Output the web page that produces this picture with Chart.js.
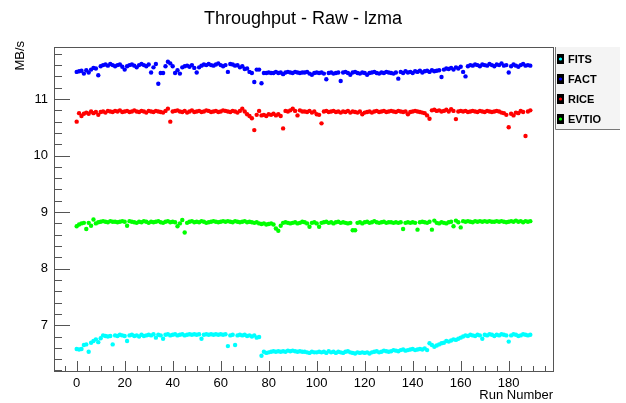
<!DOCTYPE html>
<html>
<head>
<meta charset="utf-8">
<script src="https://cdn.jsdelivr.net/npm/chart.js@4.4.0/dist/chart.umd.min.js"></script>
<style>
  body { margin: 0; background: #fff; }
  canvas { display: block; }
</style>
</head>
<body>
<canvas id="graph" width="626" height="403"></canvas>
<script>
// Valores (MB/s por número de run)
const seriesNames = ['FITS', 'FACT', 'RICE', 'EVTIO'];
const seriesColors = ['#00ffff', '#0000ff', '#ff0000', '#00ff00'];

const fits = [
  6.58, 6.57, 6.58, 6.65, 6.66, 6.53, 6.69, 6.72, 6.75, 6.70,
  6.77, 6.82, 6.81, 6.80, 6.81, 6.66, 6.82, 6.81, 6.83, 6.82,
  6.81, 6.72, 6.82, 6.83, 6.81, 6.82, 6.80, 6.83, 6.81, 6.82,
  6.83, 6.82, 6.84, 6.78, 6.83, 6.82, 6.76, 6.83, 6.84, 6.82,
  6.83, 6.84, 6.82, 6.83, 6.84, 6.82, 6.83, 6.84, 6.83, 6.84,
  6.83, 6.84, 6.76, 6.83, 6.84, 6.83, 6.84, 6.83, 6.84, 6.83,
  6.84, 6.83, 6.84, 6.63, 6.82, 6.83, 6.65, 6.82, 6.83, 6.82,
  6.83, 6.81, 6.82, 6.80, 6.82, 6.78, 6.79, 6.46, 6.53, 6.51,
  6.52, 6.53, 6.54, 6.53, 6.54, 6.53, 6.54, 6.53, 6.55, 6.54,
  6.55, 6.54, 6.53, 6.54, 6.53, 6.53, 6.52, 6.51, 6.53, 6.52, 6.52,
  6.53, 6.52, 6.53, 6.51, 6.54, 6.52, 6.53, 6.51, 6.53, 6.52,
  6.51, 6.53, 6.54, 6.52, 6.51, 6.50, 6.52, 6.51, 6.52, 6.51,
  6.52, 6.50, 6.52, 6.53, 6.54, 6.52, 6.53, 6.55, 6.54, 6.53,
  6.54, 6.56, 6.55, 6.54, 6.56, 6.57, 6.55, 6.56, 6.57, 6.58,
  6.56, 6.57, 6.58, 6.57, 6.59, 6.56, 6.68, 6.65, 6.62, 6.64,
  6.66, 6.68, 6.69, 6.72, 6.71, 6.73, 6.75, 6.74, 6.76, 6.78,
  6.80, 6.82, 6.81, 6.83, 6.82, 6.81, 6.83, 6.82, 6.76, 6.83,
  6.82, 6.84, 6.83, 6.81, 6.83, 6.82, 6.84, 6.83, 6.82, 6.71,
  6.82, 6.84, 6.83, 6.81, 6.82, 6.84, 6.83, 6.82, 6.83
];

const fact = [
  11.48, 11.49, 11.50, 11.45, 11.51, 11.47, 11.52, 11.55, 11.54, 11.42,
  11.58, 11.60, 11.61, 11.59, 11.62, 11.60, 11.58, 11.60, 11.61, 11.57,
  11.52, 11.58, 11.60, 11.61, 11.59, 11.56, 11.60, 11.62, 11.60, 11.58,
  11.61, 11.47, 11.56, 11.62, 11.27, 11.46, 11.46, 11.58, 11.66, 11.63,
  11.58, 11.46, 11.51, 11.45, 11.56, 11.58, 11.59, 11.57, 11.60, 11.55,
  11.47, 11.56, 11.59, 11.61, 11.60, 11.62, 11.60, 11.59, 11.61, 11.63,
  11.60, 11.58, 11.60, 11.48, 11.62, 11.61, 11.59, 11.60, 11.56, 11.58,
  11.53, 11.54, 11.48, 11.46, 11.30, 11.52, 11.52, 11.28, 11.46, 11.46,
  11.47, 11.46, 11.46, 11.48, 11.46, 11.47, 11.44, 11.47, 11.48, 11.47,
  11.46, 11.48, 11.47, 11.46, 11.47, 11.47, 11.48, 11.45, 11.43, 11.46, 11.47,
  11.46, 11.47, 11.45, 11.35, 11.46, 11.47, 11.45, 11.46, 11.47, 11.32,
  11.47, 11.48, 11.46, 11.43, 11.47, 11.48, 11.46, 11.45, 11.47, 11.46,
  11.43, 11.46, 11.47, 11.48, 11.46, 11.45, 11.47, 11.46, 11.48, 11.47,
  11.46, 11.45, 11.47, 11.36, 11.48, 11.46, 11.49, 11.47, 11.48, 11.46,
  11.49, 11.48, 11.50, 11.47, 11.49, 11.50, 11.48, 11.51, 11.49, 11.50,
  11.51, 11.39, 11.52, 11.54, 11.53, 11.55, 11.52, 11.56, 11.54, 11.57,
  11.48, 11.40, 11.58, 11.60, 11.59, 11.61, 11.60, 11.58, 11.61, 11.60,
  11.59, 11.62, 11.60, 11.58, 11.61, 11.60, 11.63, 11.59, 11.60, 11.47,
  11.58, 11.61, 11.59, 11.57, 11.60, 11.62, 11.59, 11.60, 11.59
];

const rice = [
  10.60, 10.75, 10.70, 10.74, 10.76, 10.74, 10.78, 10.75, 10.77, 10.72,
  10.77, 10.78, 10.76, 10.79, 10.78, 10.77, 10.79, 10.78, 10.80, 10.77,
  10.78, 10.79, 10.77, 10.78, 10.80, 10.78, 10.77, 10.79, 10.78, 10.76,
  10.79, 10.78, 10.77, 10.79, 10.78, 10.77, 10.76, 10.79, 10.83, 10.60,
  10.78, 10.79, 10.80, 10.78, 10.77, 10.79, 10.76, 10.78, 10.80, 10.77,
  10.78, 10.79, 10.77, 10.78, 10.80, 10.79, 10.77, 10.78, 10.79, 10.77,
  10.78, 10.80, 10.79, 10.78, 10.77, 10.79, 10.78, 10.76, 10.79, 10.83,
  10.78, 10.73, 10.70, 10.66, 10.45, 10.72, 10.79, 10.71, 10.72, 10.70,
  10.73, 10.72, 10.74, 10.71, 10.73, 10.70, 10.48, 10.79, 10.78, 10.80,
  10.83, 10.79, 10.71, 10.80, 10.78, 10.78, 10.77, 10.79, 10.76, 10.78, 10.73,
  10.72, 10.57, 10.78, 10.79, 10.77, 10.78, 10.79, 10.77, 10.78, 10.76,
  10.78, 10.77, 10.79, 10.76, 10.78, 10.77, 10.76, 10.78, 10.73, 10.76,
  10.77, 10.78, 10.76, 10.78, 10.79, 10.77, 10.78, 10.79, 10.77, 10.78,
  10.79, 10.78, 10.77, 10.79, 10.78, 10.77, 10.78, 10.73, 10.77, 10.78,
  10.79, 10.78, 10.77, 10.76, 10.75, 10.71, 10.65, 10.80, 10.81, 10.79,
  10.80, 10.78, 10.79, 10.81, 10.78, 10.82, 10.79, 10.645, 10.78, 10.79,
  10.78, 10.79, 10.77, 10.78, 10.79, 10.78, 10.77, 10.79, 10.78, 10.77,
  10.79, 10.78, 10.77, 10.78, 10.79, 10.78, 10.76, 10.75, 10.72, 10.50,
  10.74, 10.71, 10.76, 10.75, 10.79, 10.77, 10.345, 10.78, 10.80
];

const evtio = [
  8.75, 8.78, 8.80, 8.81, 8.70, 8.81, 8.76, 8.87, 8.80, 8.82,
  8.83, 8.84, 8.83, 8.82, 8.84, 8.83, 8.83, 8.82, 8.83, 8.84,
  8.83, 8.76, 8.84, 8.83, 8.82, 8.81, 8.83, 8.82, 8.84, 8.83,
  8.81, 8.83, 8.82, 8.83, 8.84, 8.82, 8.81, 8.83, 8.84, 8.82,
  8.83, 8.82, 8.75, 8.80, 8.86, 8.64, 8.81, 8.83, 8.84, 8.82,
  8.83, 8.82, 8.84, 8.83, 8.81, 8.82, 8.83, 8.84, 8.83, 8.82,
  8.83, 8.84, 8.83, 8.84, 8.83, 8.82, 8.84, 8.83, 8.82, 8.83,
  8.84, 8.82, 8.83, 8.82, 8.81, 8.82, 8.80, 8.79, 8.80, 8.78,
  8.79, 8.80, 8.78, 8.71, 8.67, 8.76, 8.81, 8.82, 8.81, 8.80,
  8.81, 8.82, 8.80, 8.81, 8.83, 8.82, 8.80, 8.74, 8.81, 8.82, 8.80,
  8.74, 8.81, 8.82, 8.83, 8.81, 8.82, 8.80, 8.82, 8.83, 8.81,
  8.82, 8.81, 8.80, 8.81, 8.68, 8.68, 8.81, 8.82, 8.80, 8.82,
  8.83, 8.81, 8.82, 8.84, 8.82, 8.81, 8.82, 8.83, 8.81, 8.82,
  8.82, 8.81, 8.82, 8.81, 8.82, 8.70, 8.81, 8.82, 8.81, 8.82,
  8.81, 8.69, 8.82, 8.83, 8.82, 8.81, 8.83, 8.69, 8.85, 8.81,
  8.80, 8.82, 8.81, 8.80, 8.82, 8.83, 8.75, 8.85, 8.82, 8.73,
  8.84, 8.83, 8.84, 8.83, 8.82, 8.84, 8.83, 8.84, 8.83, 8.84,
  8.83, 8.84, 8.83, 8.83, 8.84, 8.83, 8.84, 8.83, 8.82, 8.83,
  8.84, 8.83, 8.85, 8.83, 8.84, 8.82, 8.84, 8.83, 8.84
];

const seriesValues = [fits, fact, rice, evtio];

const FONT = '"Liberation Sans", Arial, Helvetica, sans-serif';

// cada valor va en su número de run (posición en la lista)
function toPoints(values) {
  return values.map((v, i) => ({ x: i, y: v }));
}

// marco, marcas de los ejes, títulos y leyenda al estilo ROOT
const rootStyle = {
  id: 'rootStyle',
  afterDraw(chart) {
    const ctx = chart.ctx;
    const area = chart.chartArea;
    const xs = chart.scales.x;
    const ys = chart.scales.y;
    ctx.save();

    // marco
    ctx.strokeStyle = '#555';
    ctx.lineWidth = 1;
    ctx.strokeRect(Math.round(area.left) + 0.5, Math.round(area.top) + 0.5,
      Math.round(area.right - area.left), Math.round(area.bottom - area.top));

    // marcas del eje Y (hacia dentro)
    ctx.beginPath();
    const y0 = Math.ceil(ys.min * 5);
    const y1 = Math.floor(ys.max * 5);
    for (let k = y0; k <= y1; k++) {
      const py = Math.round(ys.getPixelForValue(k / 5)) + 0.5;
      const len = (k % 5 === 0) ? 16 : 8;
      ctx.moveTo(area.left, py);
      ctx.lineTo(area.left + len, py);
    }
    // marcas del eje X (hacia arriba)
    const x0 = Math.ceil(xs.min / 5);
    const x1 = Math.floor(xs.max / 5);
    for (let k = x0; k <= x1; k++) {
      const px = Math.round(xs.getPixelForValue(k * 5)) + 0.5;
      const len = (k % 4 === 0) ? 10 : 5;
      ctx.moveTo(px, area.bottom);
      ctx.lineTo(px, area.bottom - len);
    }
    ctx.stroke();

    // título
    ctx.fillStyle = '#000';
    ctx.font = '18px ' + FONT;
    ctx.textAlign = 'center';
    ctx.textBaseline = 'middle';
    ctx.fillText('Throughput - Raw - lzma', 303, 19);

    // títulos de los ejes
    ctx.font = '13px ' + FONT;
    ctx.textAlign = 'right';
    ctx.textBaseline = 'alphabetic';
    ctx.fillText('Run Number', area.right, 399);
    ctx.save();
    ctx.translate(24, area.top - 6);
    ctx.rotate(-Math.PI / 2);
    ctx.textAlign = 'right';
    ctx.fillText('MB/s', 0, 0);
    ctx.restore();

    // leyenda
    const lx = 555, ly = area.top, lw = 65, lh = 82;
    ctx.fillStyle = '#f4f4f4';
    ctx.fillRect(lx, ly, lw, lh);
    ctx.strokeStyle = '#777';
    ctx.beginPath();
    ctx.moveTo(lx + 0.5, ly);
    ctx.lineTo(lx + 0.5, ly + lh + 0.5);
    ctx.lineTo(lx + lw, ly + lh + 0.5);
    ctx.stroke();
    ctx.font = 'bold 11px ' + FONT;
    ctx.textAlign = 'left';
    ctx.textBaseline = 'middle';
    seriesNames.forEach((name, i) => {
      const cy = ly + 12 + i * 20;
      ctx.fillStyle = '#000';
      ctx.fillRect(lx + 2, cy - 5, 7, 10);
      ctx.fillStyle = seriesColors[i];
      ctx.beginPath();
      ctx.arc(lx + 5.5, cy, 1.6, 0, Math.PI * 2);
      ctx.fill();
      ctx.fillStyle = '#000';
      ctx.fillText(name, lx + 13, cy + 1);
    });
    ctx.restore();
  }
};

function createChart() {
  const ctx = document.getElementById('graph').getContext('2d');
  const datasets = seriesNames.map((name, i) => ({
    label: name,
    data: toPoints(seriesValues[i]),
    backgroundColor: seriesColors[i],
    borderColor: seriesColors[i],
    borderWidth: 0,
    pointRadius: 2.2,
    showLine: false
  }));

  new Chart(ctx, {
    type: 'scatter',
    data: { datasets: datasets },
    options: {
      responsive: false,
      animation: false,
      layout: { padding: { top: 47, right: 73, left: 0, bottom: 0 } },
      plugins: {
        legend: { display: false },
        tooltip: { enabled: false },
        title: { display: false }
      },
      scales: {
        x: {
          type: 'linear',
          min: -9.45,
          max: 198.45,
          grid: { display: false, drawTicks: false },
          border: { display: false },
          ticks: {
            stepSize: 20,
            includeBounds: false,
            autoSkip: false,
            maxRotation: 0,
            padding: 5,
            color: '#000',
            font: { family: FONT, size: 13 }
          },
          afterFit(scale) { scale.height = 32; }
        },
        y: {
          type: 'linear',
          min: 6.19,
          max: 11.92,
          grid: { display: false, drawTicks: false },
          border: { display: false },
          ticks: {
            stepSize: 1,
            includeBounds: false,
            padding: 6,
            color: '#000',
            font: { family: FONT, size: 13 }
          },
          afterFit(scale) { scale.width = 54; }
        }
      }
    },
    plugins: [rootStyle]
  });
}

window.onload = createChart;
</script>
</body>
</html>
